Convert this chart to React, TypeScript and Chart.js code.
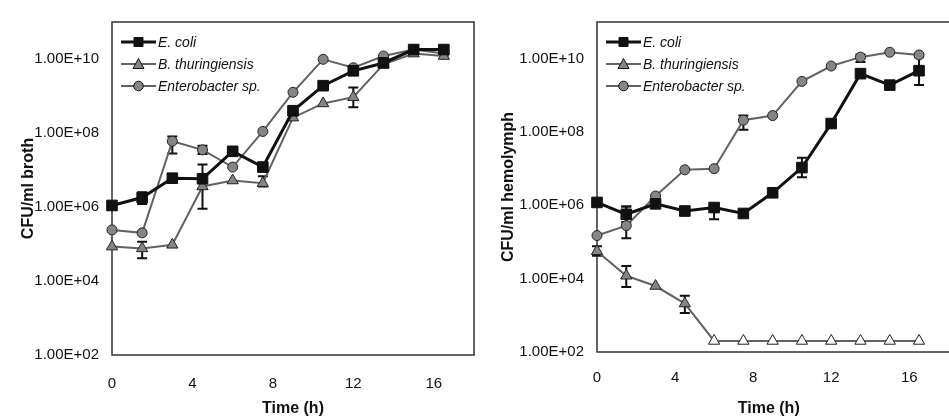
import React, { useEffect, useRef } from "react";
import { Chart, registerables } from "chart.js";

Chart.register(...registerables);

const FONT = "'Liberation Sans', Arial, Helvetica, sans-serif";

// ---- data ----
const times = [0, 1.5, 3, 4.5, 6, 7.5, 9, 10.5, 12, 13.5, 15, 16.5];
const xTickValues = [0, 4, 8, 12, 16];
const yTickValues = [1e2, 1e4, 1e6, 1e8, 1e10];
const yTickLabels = ["1.00E+02", "1.00E+04", "1.00E+06", "1.00E+08", "1.00E+10"];
const seriesNames = ["E. coli", "B. thuringiensis", "Enterobacter sp."];

// CFU/ml broth
const brothEcoli = [1.1e6, 1.8e6, 6.0e6, 5.8e6, 3.2e7, 1.2e7, 4.0e8, 1.9e9, 4.8e9, 7.8e9, 1.8e10, 1.8e10];
const brothBt = [8.5e4, 7.6e4, 9.5e4, 3.6e6, 5.2e6, 4.4e6, 2.6e8, 6.3e8, 9.3e8, 7.2e9, 1.4e10, 1.2e10];
const brothEnt = [2.4e5, 2.0e5, 6.0e7, 3.5e7, 1.2e7, 1.1e8, 1.26e9, 9.8e9, 5.8e9, 1.2e10, 1.8e10, 1.4e10];

// CFU/ml hemolymph
const hemoEcoli = [1.2e6, 5.7e5, 1.1e6, 7.0e5, 8.7e5, 6.0e5, 2.2e6, 1.07e7, 1.7e8, 3.9e9, 1.9e9, 4.7e9];
const hemoBt = [5.6e4, 1.2e4, 6.3e3, 2.1e3, 2e2, 2e2, 2e2, 2e2, 2e2, 2e2, 2e2, 2e2];
const hemoEnt = [1.5e5, 2.8e5, 1.8e6, 9.3e6, 1.0e7, 2.1e8, 2.8e8, 2.4e9, 6.3e9, 1.1e10, 1.5e10, 1.26e10];

type Err = [number, number] | null;

// error bars [low, high]
const brothEcoliErr: Err[] = [null, [1.2e6, 2.5e6], null, null, null, null, null, null, null, null, null, null];
const brothBtErr: Err[] = [null, [4.1e4, 1.15e5], null, [9e5, 1.4e7], null, [3.6e6, 6.8e6], null, null, [5e8, 1.7e9], null, null, null];
const brothEntErr: Err[] = [null, null, [2.8e7, 8.1e7], [2.7e7, 4.5e7], null, null, null, null, null, null, null, null];

const hemoEcoliErr: Err[] = [null, [3.5e5, 9.3e5], null, null, [4.2e5, 1.0e6], null, null, [5.8e6, 2.0e7], null, null, null, [1.9e9, 1.1e10]];
const hemoBtErr: Err[] = [[4.2e4, 7.6e4], [5.9e3, 2.2e4], null, [1.15e3, 3.4e3], null, null, null, null, null, null, null, null];
const hemoEntErr: Err[] = [null, [1.26e5, 9.3e5], null, null, null, [1.15e8, 2.8e8], null, null, null, [8.1e9, 1.3e10], null, null];

// ---- styles ----
const BLACK = "#111111";
const GRAY_LINE = "#626262";
const GRAY_FILL = "#858585";

function pts(vals: number[]) {
  return times.map((t, i) => ({ x: t, y: vals[i] }));
}

const errorBarPlugin = {
  id: "errorBars",
  beforeDatasetsDraw(chart: any) {
    const ctx = chart.ctx;
    const xs = chart.scales.x;
    const ys = chart.scales.y;
    chart.data.datasets.forEach((ds: any) => {
      const errs: Err[] | undefined = ds.errorBars;
      if (!errs) return;
      ctx.save();
      ctx.strokeStyle = BLACK;
      ctx.lineWidth = 2;
      errs.forEach((e, i) => {
        if (!e) return;
        const px = xs.getPixelForValue(ds.data[i].x);
        const y1 = ys.getPixelForValue(e[0]);
        const y2 = ys.getPixelForValue(e[1]);
        ctx.beginPath();
        ctx.moveTo(px, y1);
        ctx.lineTo(px, y2);
        ctx.moveTo(px - 5, y1);
        ctx.lineTo(px + 5, y1);
        ctx.moveTo(px - 5, y2);
        ctx.lineTo(px + 5, y2);
        ctx.stroke();
      });
      ctx.restore();
    });
  },
};

const framePlugin = {
  id: "frame",
  beforeDatasetsDraw(chart: any, _args: any, opts: any) {
    const { left, right, top, bottom } = chart.chartArea;
    const ctx = chart.ctx;
    ctx.save();
    ctx.strokeStyle = "#333";
    ctx.lineWidth = 1.5;
    ctx.beginPath();
    if (opts && opts.open) {
      ctx.moveTo(right + 20, top);
      ctx.lineTo(left, top);
      ctx.lineTo(left, bottom);
      ctx.lineTo(right + 20, bottom);
    } else {
      ctx.rect(left, top, right - left, bottom - top);
    }
    ctx.stroke();
    ctx.restore();
  },
};

function drawMarker(ctx: CanvasRenderingContext2D, style: string, x: number, y: number, fill: string) {
  ctx.fillStyle = fill;
  ctx.strokeStyle = BLACK;
  ctx.lineWidth = 1;
  ctx.beginPath();
  if (style === "rect") {
    ctx.rect(x - 4.5, y - 4.5, 9, 9);
  } else if (style === "triangle") {
    ctx.moveTo(x, y - 5.5);
    ctx.lineTo(x + 5.5, y + 4.5);
    ctx.lineTo(x - 5.5, y + 4.5);
    ctx.closePath();
  } else {
    ctx.arc(x, y, 4.8, 0, Math.PI * 2);
  }
  ctx.fill();
  ctx.stroke();
}

const insideLegendPlugin = {
  id: "insideLegend",
  afterDraw(chart: any) {
    const ctx = chart.ctx;
    const { left, top } = chart.chartArea;
    ctx.save();
    chart.data.datasets.forEach((ds: any, i: number) => {
      const y = top + 20 + 22 * i;
      const x1 = left + 9;
      const x2 = left + 44;
      ctx.strokeStyle = ds.borderColor;
      ctx.lineWidth = ds.borderWidth;
      ctx.beginPath();
      ctx.moveTo(x1, y);
      ctx.lineTo(x2, y);
      ctx.stroke();
      drawMarker(ctx, ds.pointStyle, (x1 + x2) / 2, y, ds.legendFill);
      ctx.fillStyle = BLACK;
      ctx.font = `italic 14px ${FONT}`;
      ctx.textAlign = "left";
      ctx.textBaseline = "middle";
      ctx.fillText(ds.label, x2 + 2, y + 1);
    });
    ctx.restore();
  },
};

function buildDatasets(ec: number[], bt: number[], en: number[], ecE: Err[], btE: Err[], enE: Err[], btFill: string[]) {
  return [
    {
      label: seriesNames[0],
      data: pts(ec),
      errorBars: ecE,
      borderColor: BLACK,
      borderWidth: 3,
      pointStyle: "rect",
      pointRadius: 7.5,
      pointBackgroundColor: BLACK,
      pointBorderColor: BLACK,
      pointBorderWidth: 1,
      legendFill: BLACK,
      clip: false,
    },
    {
      label: seriesNames[1],
      data: pts(bt),
      errorBars: btE,
      borderColor: GRAY_LINE,
      borderWidth: 2,
      pointStyle: "triangle",
      pointRadius: 6.5,
      pointBackgroundColor: btFill,
      pointBorderColor: "#222",
      pointBorderWidth: 1,
      legendFill: GRAY_FILL,
      clip: false,
    },
    {
      label: seriesNames[2],
      data: pts(en),
      errorBars: enE,
      borderColor: GRAY_LINE,
      borderWidth: 2,
      pointStyle: "circle",
      pointRadius: 5,
      pointBackgroundColor: GRAY_FILL,
      pointBorderColor: "#222",
      pointBorderWidth: 1,
      legendFill: GRAY_FILL,
      clip: false,
    },
  ];
}

function buildOptions(yTitle: string, xMax: number, padTop: number, padRight: number, xAxisH: number, yTitlePad: number, xTickPad: number, openFrame: boolean) {
  return {
    responsive: false,
    animation: false,
    events: [],
    layout: { padding: { left: 0, top: padTop, right: padRight, bottom: 0 } },
    plugins: {
      legend: { display: false },
      tooltip: { enabled: false },
      frame: { open: openFrame },
    },
    scales: {
      x: {
        type: "linear",
        min: 0,
        max: xMax,
        afterBuildTicks: (s: any) => {
          s.ticks = xTickValues.map((v) => ({ value: v }));
        },
        afterFit: (s: any) => {
          s.height = xAxisH;
        },
        grid: { display: false, drawTicks: false },
        border: { display: false },
        ticks: {
          font: { family: FONT, size: 15 },
          color: BLACK,
          padding: xTickPad,
          maxRotation: 0,
          autoSkip: false,
        },
        title: {
          display: true,
          text: "Time (h)",
          font: { family: FONT, size: 16, weight: "bold" },
          color: BLACK,
          padding: { top: 0, bottom: 1 },
        },
      },
      y: {
        type: "logarithmic",
        min: 1e2,
        max: 1e11,
        afterBuildTicks: (s: any) => {
          s.ticks = yTickValues.map((v) => ({ value: v }));
        },
        afterFit: (s: any) => {
          s.width = 112;
        },
        grid: { display: false, drawTicks: false },
        border: { display: false },
        ticks: {
          font: { family: FONT, size: 15 },
          color: BLACK,
          padding: 13,
          autoSkip: false,
          callback: (v: number) => {
            const idx = yTickValues.findIndex((t) => Math.abs(Math.log10(t) - Math.log10(v)) < 1e-6);
            return idx >= 0 ? yTickLabels[idx] : "";
          },
        },
        title: {
          display: true,
          text: yTitle,
          font: { family: FONT, size: 16, weight: "bold" },
          color: BLACK,
          padding: { top: yTitlePad, bottom: 0 },
        },
      },
    },
  };
}

function Panel(props: { left: number; width: number; build: () => any }) {
  const ref = useRef<HTMLCanvasElement | null>(null);
  useEffect(() => {
    if (!ref.current) return;
    const chart = new Chart(ref.current, props.build());
    return () => chart.destroy();
  }, []);
  return (
    <canvas
      ref={ref}
      width={props.width}
      height={419}
      style={{ position: "absolute", left: props.left, top: 0, width: props.width, height: 419 }}
    />
  );
}

export default function App() {
  const buildBroth = () => ({
    type: "line",
    data: {
      datasets: buildDatasets(
        brothEcoli,
        brothBt,
        brothEnt,
        brothEcoliErr,
        brothBtErr,
        brothEntErr,
        brothBt.map(() => GRAY_FILL)
      ),
    },
    options: buildOptions("CFU/ml broth", 18, 13, 11, 64, 19, 20, false),
    plugins: [framePlugin, errorBarPlugin, insideLegendPlugin],
  });
  const buildHemo = () => ({
    type: "line",
    data: {
      datasets: buildDatasets(
        hemoEcoli,
        hemoBt,
        hemoEnt,
        hemoEcoliErr,
        hemoBtErr,
        hemoEntErr,
        hemoBt.map((v) => (v > 2e2 ? GRAY_FILL : "#ffffff"))
      ),
    },
    options: buildOptions("CFU/ml hemolymph", 17.6, 12, 0, 67, 14, 17, true),
    plugins: [framePlugin, errorBarPlugin, insideLegendPlugin],
  });
  return (
    <div style={{ position: "absolute", left: 0, top: 0, width: 949, height: 419, background: "#fff", overflow: "hidden" }}>
      <Panel left={0} width={485} build={buildBroth} />
      <Panel left={485} width={464} build={buildHemo} />
    </div>
  );
}
